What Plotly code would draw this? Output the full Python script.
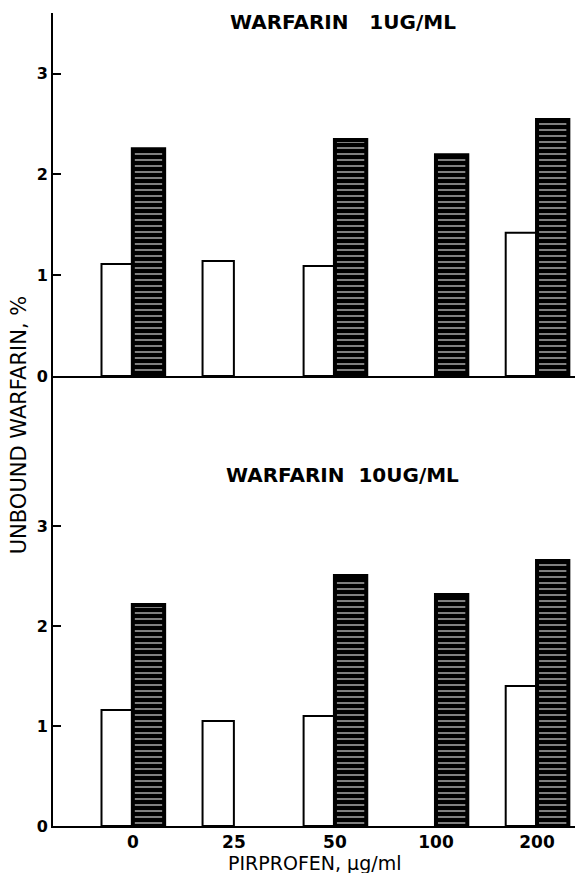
import plotly.graph_objects as go
from plotly.subplots import make_subplots

categories = ["0", "25", "50", "100", "200"]
top_open = [1.11, 1.14, 1.09, None, 1.42]
top_hatched = [2.25, None, 2.34, 2.19, 2.54]
bottom_open = [1.16, 1.05, 1.10, None, 1.40]
bottom_hatched = [2.21, None, 2.50, 2.31, 2.65]
y_ticks = [0, 1, 2, 3]

panel_titles = ["WARFARIN   1UG/ML", "WARFARIN  10UG/ML"]
y_title = "UNBOUND WARFARIN, %"
x_title = "PIRPROFEN, μg/ml"

FONT = "DejaVu Sans"

fig = make_subplots(rows=2, cols=1, shared_xaxes=False, vertical_spacing=0,
                    row_heights=[0.4465, 0.5535])

def add_pair(open_vals, hatched_vals, row):
    fig.add_trace(go.Bar(x=categories, y=open_vals, marker=dict(color="white",
                         line=dict(color="black", width=2)), showlegend=False), row=row, col=1)
    fig.add_trace(go.Bar(x=categories, y=hatched_vals, marker=dict(
        color="black", line=dict(color="black", width=4),
        pattern=dict(shape="-", fgcolor="white", bgcolor="black", fillmode="overlay",
                     size=6, solidity=1/3)), showlegend=False), row=row, col=1)

add_pair(top_open, top_hatched, 1)
add_pair(bottom_open, bottom_hatched, 2)

xcommon = dict(type="category", range=[-0.79, 4.455], showline=True, linecolor="black",
               linewidth=2, showgrid=False, zeroline=False, ticks="", fixedrange=True)
fig.update_xaxes(**xcommon, showticklabels=False, row=1, col=1)
fig.update_xaxes(**xcommon, showticklabels=True,
                 tickfont=dict(family=FONT, size=17, color="black", weight="bold"), row=2, col=1)

ycommon = dict(showline=True, linecolor="black", linewidth=2, showgrid=False, zeroline=False,
               ticks="inside", ticklen=8, tickwidth=2, tickcolor="black",
               tickvals=y_ticks, ticktext=[str(v) for v in y_ticks],
               tickfont=dict(family=FONT, size=16, color="black", weight="bold"))
fig.update_yaxes(**ycommon, range=[0, 3.6], row=1, col=1)
fig.update_yaxes(**ycommon, range=[0, 4.5], row=2, col=1)

annotations = [
    dict(text="<b>" + panel_titles[0] + "</b>", x=0.547, y=0.989, xref="paper", yref="paper",
         showarrow=False, font=dict(family=FONT, size=20, color="black"), xanchor="center", yanchor="middle"),
    dict(text="<b>" + panel_titles[1] + "</b>", x=0.547, y=0.432, xref="paper", yref="paper",
         showarrow=False, font=dict(family=FONT, size=20, color="black"), xanchor="center", yanchor="middle"),
    dict(text=y_title, x=-0.064, y=0.493, xref="paper", yref="paper", textangle=-90,
         showarrow=False, font=dict(family=FONT, size=21, color="black"), xanchor="center", yanchor="middle"),
    dict(text=x_title, x=0.494, y=-0.0455, xref="paper", yref="paper",
         showarrow=False, font=dict(family=FONT, size=19, color="black"), xanchor="center", yanchor="middle"),
]

# page body adds an 8px margin, so the figure is drawn 8px smaller and offset
fig.update_layout(width=575, height=865, margin=dict(l=45, r=0, t=5, b=47),
                  plot_bgcolor="white", paper_bgcolor="white",
                  barmode="group", bargap=0.38, bargroupgap=0,
                  annotations=annotations, showlegend=False)

fig.write_html("out.html")
